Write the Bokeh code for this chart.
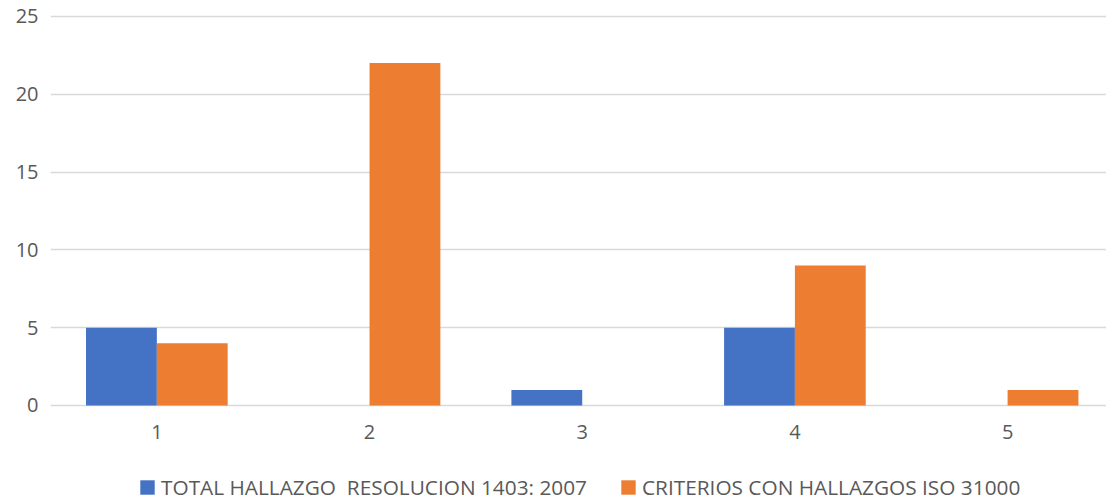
from bokeh.plotting import figure
from bokeh.models import ColumnDataSource, Legend, LegendItem, FixedTicker, Range1d, LinearAxis
from bokeh.embed import file_html
from bokeh.resources import INLINE

categories = [1, 2, 3, 4, 5]
total_hallazgo = [5, 0, 1, 5, 0]
criterios_iso = [4, 22, 0, 9, 1]
series_names = ["TOTAL HALLAZGO  RESOLUCION 1403: 2007", "CRITERIOS CON HALLAZGOS ISO 31000"]
colors = ["#4472C4", "#ED7D31"]
y_ticks = [0, 5, 10, 15, 20, 25]

FONT = "Open Sans"
TXT = "#595959"

p = figure(frame_width=1056, frame_height=493, output_backend="svg", toolbar_location=None,
           x_range=Range1d(0.5, 5.465), y_range=Range1d(-6.17, 25.51),
           x_axis_location=None,
           min_border_left=50, min_border_right=0, min_border_top=8, min_border_bottom=0)
p.outline_line_color = None
p.background_fill_color = "white"
p.border_fill_color = "white"

w = 0.333
src1 = ColumnDataSource(dict(x=[c - w / 2 for c in categories], top=total_hallazgo))
src2 = ColumnDataSource(dict(x=[c + w / 2 for c in categories], top=criterios_iso))
r1 = p.vbar(x="x", top="top", width=w, bottom=0, source=src1, color=colors[0], line_color=None)
r2 = p.vbar(x="x", top="top", width=w, bottom=0, source=src2, color=colors[1], line_color=None)

xaxis = LinearAxis(fixed_location=0, ticker=FixedTicker(ticks=categories))
p.add_layout(xaxis, "below")

p.xgrid.grid_line_color = None
p.ygrid.grid_line_color = "#D9D9D9"
p.ygrid.grid_line_width = 1.5
p.ygrid.ticker = FixedTicker(ticks=y_ticks)
p.yaxis.ticker = FixedTicker(ticks=y_ticks)
for ax in (xaxis, p.yaxis[0]):
    ax.axis_line_color = None
    ax.major_tick_line_color = None
    ax.minor_tick_line_color = None
    ax.major_label_text_font = FONT
    ax.major_label_text_font_size = "20px"
    ax.major_label_text_color = TXT
p.yaxis.major_label_standoff = 6
xaxis.major_label_standoff = 14

legend = Legend(items=[LegendItem(label=series_names[0], renderers=[r1]),
                       LegendItem(label=series_names[1], renderers=[r2])],
                orientation="horizontal", location=(88, 0),
                label_text_font=FONT, label_text_font_size="20.8px", label_text_color=TXT,
                glyph_width=18, glyph_height=18, label_standoff=5, spacing=32,
                border_line_color=None, background_fill_alpha=0, margin=0, padding=0)
p.add_layout(legend, "center")

open("out.html", "w").write(file_html(p, INLINE))
